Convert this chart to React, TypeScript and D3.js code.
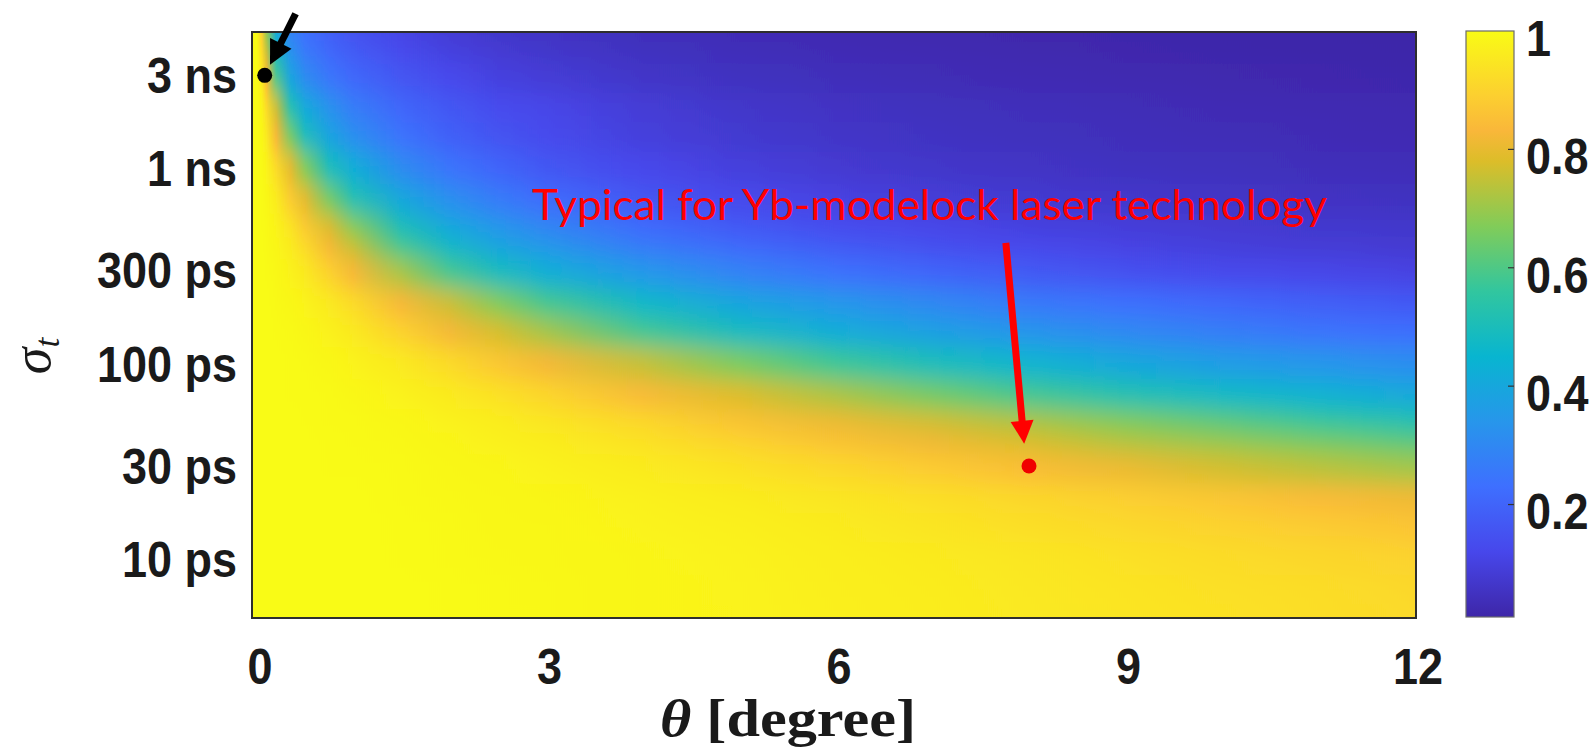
import { useEffect, useRef } from "react";
import * as d3 from "d3";

// grid of the map: tilt angle (degree) and pulse length sigma_t (ps)
const thetas = [0, 0.05, 0.1, 0.2, 0.35, 0.5, 0.75, 1, 1.5, 2, 2.5, 3, 4, 5, 6, 7, 8, 9, 10, 11, 12];
const sigmas = [5, 7, 10, 15, 20, 30, 40, 50, 70, 100, 150, 200, 300, 400, 500, 700, 1000, 1500, 2000, 3000, 4000, 5000];

// one row per sigma, one value per theta
const row5ps = [1, 1, 1, 1, 1, 1, 1, 1, 0.999, 0.997, 0.994, 0.992, 0.986, 0.98, 0.972, 0.964, 0.954, 0.946, 0.937, 0.927, 0.918];
const row7ps = [1, 1, 1, 1, 1, 1, 1, 1, 0.999, 0.997, 0.994, 0.992, 0.986, 0.979, 0.971, 0.962, 0.952, 0.943, 0.933, 0.924, 0.913];
const row10ps = [1, 1, 1, 1, 1, 1, 1, 1, 0.998, 0.996, 0.993, 0.99, 0.984, 0.977, 0.968, 0.958, 0.947, 0.935, 0.923, 0.911, 0.899];
const row15ps = [1, 1, 1, 1, 1, 1, 1, 0.999, 0.997, 0.994, 0.991, 0.989, 0.981, 0.972, 0.96, 0.946, 0.931, 0.916, 0.9, 0.883, 0.866];
const row20ps = [1, 1, 1, 1, 1, 1, 0.999, 0.999, 0.996, 0.993, 0.99, 0.986, 0.976, 0.962, 0.948, 0.929, 0.909, 0.889, 0.867, 0.842, 0.818];
const row30ps = [1, 1, 1, 1, 1, 0.999, 0.998, 0.997, 0.995, 0.99, 0.985, 0.977, 0.96, 0.938, 0.913, 0.881, 0.847, 0.81, 0.77, 0.74, 0.71];
const row40ps = [1, 1, 1, 1, 1, 0.999, 0.997, 0.996, 0.992, 0.985, 0.975, 0.965, 0.938, 0.903, 0.862, 0.82, 0.78, 0.735, 0.7, 0.66, 0.62];
const row50ps = [1, 1, 1, 1, 0.999, 0.998, 0.996, 0.995, 0.989, 0.977, 0.965, 0.948, 0.909, 0.859, 0.809, 0.765, 0.72, 0.665, 0.615, 0.565, 0.52];
const row70ps = [1, 1, 1, 1, 0.998, 0.997, 0.995, 0.991, 0.977, 0.958, 0.935, 0.905, 0.838, 0.781, 0.72, 0.65, 0.58, 0.52, 0.475, 0.44, 0.405];
const row100ps = [1, 1, 1, 0.999, 0.997, 0.995, 0.99, 0.98, 0.954, 0.917, 0.871, 0.824, 0.751, 0.661, 0.574, 0.5, 0.448, 0.4, 0.365, 0.34, 0.315];
const row150ps = [1, 1, 0.999, 0.997, 0.995, 0.99, 0.975, 0.955, 0.897, 0.827, 0.774, 0.712, 0.582, 0.488, 0.422, 0.376, 0.338, 0.303, 0.273, 0.244, 0.227];
const row200ps = [1, 1, 0.999, 0.996, 0.991, 0.98, 0.955, 0.92, 0.83, 0.758, 0.67, 0.585, 0.467, 0.393, 0.344, 0.3, 0.259, 0.233, 0.207, 0.187, 0.167];
const row300ps = [1, 0.999, 0.997, 0.993, 0.978, 0.955, 0.898, 0.83, 0.716, 0.587, 0.495, 0.43, 0.349, 0.285, 0.239, 0.203, 0.172, 0.147, 0.127, 0.117, 0.105];
const row400ps = [1, 0.999, 0.996, 0.988, 0.961, 0.92, 0.83, 0.76, 0.588, 0.472, 0.398, 0.351, 0.267, 0.216, 0.176, 0.144, 0.123, 0.108, 0.094, 0.086, 0.078];
const row500ps = [1, 0.998, 0.995, 0.98, 0.94, 0.875, 0.778, 0.673, 0.497, 0.399, 0.34, 0.288, 0.217, 0.167, 0.135, 0.116, 0.1, 0.09, 0.08, 0.073, 0.067];
const row700ps = [1, 0.997, 0.991, 0.961, 0.88, 0.795, 0.652, 0.52, 0.4, 0.32, 0.265, 0.22, 0.16, 0.125, 0.103, 0.087, 0.076, 0.067, 0.06, 0.054, 0.049];
const row1ns = [1, 0.995, 0.98, 0.92, 0.795, 0.673, 0.5, 0.42, 0.31, 0.245, 0.2, 0.165, 0.12, 0.095, 0.078, 0.066, 0.057, 0.05, 0.045, 0.04, 0.036];
const row1500ps = [1, 0.99, 0.955, 0.83, 0.652, 0.5, 0.39, 0.32, 0.24, 0.19, 0.155, 0.13, 0.095, 0.075, 0.062, 0.052, 0.045, 0.04, 0.035, 0.031, 0.028];
const row2ns = [1, 0.98, 0.92, 0.76, 0.52, 0.41, 0.33, 0.27, 0.205, 0.165, 0.135, 0.115, 0.085, 0.066, 0.054, 0.045, 0.039, 0.034, 0.03, 0.027, 0.024];
const row3ns = [1, 0.955, 0.83, 0.589, 0.39, 0.31, 0.25, 0.21, 0.16, 0.125, 0.1, 0.085, 0.063, 0.049, 0.04, 0.033, 0.028, 0.024, 0.021, 0.018, 0.016];
const row4ns = [1, 0.92, 0.76, 0.473, 0.33, 0.26, 0.21, 0.175, 0.13, 0.1, 0.08, 0.067, 0.049, 0.038, 0.031, 0.026, 0.022, 0.018, 0.015, 0.013, 0.011];
const row5ns = [1, 0.875, 0.673, 0.4, 0.28, 0.23, 0.185, 0.15, 0.11, 0.083, 0.066, 0.055, 0.04, 0.031, 0.025, 0.02, 0.017, 0.015, 0.013, 0.011, 0.01];

const rows = [row5ps, row7ps, row10ps, row15ps, row20ps, row30ps, row40ps, row50ps, row70ps, row100ps, row150ps,
    row200ps, row300ps, row400ps, row500ps, row700ps, row1ns, row1500ps, row2ns, row3ns, row4ns, row5ns];

// axes
const xTicks = [0, 3, 6, 9, 12];
const yTicks = [3000, 1000, 300, 100, 30, 10];
const yTickLabels = ["3 ns", "1 ns", "300 ps", "100 ps", "30 ps", "10 ps"];
const cbTicks = [1, 0.8, 0.6, 0.4, 0.2];
const cbTickLabels = ["1", "0.8", "0.6", "0.4", "0.2"];

// marked points and the annotation
const typicalPoint = {theta: 8, sigma: 30};
const typicalArrow = {from: [7.76, 416], to: [7.95, 39]};
const smallPoint = {theta: 0.08, sigma: 3000};
const smallArrow = {from: [0.4, 6200], to: [0.135, 3400]};
const note = "Typical for Yb-modelock laser technology";

// parula colormap
const parulaPos = [0, 1 / 9, 2 / 9, 3 / 9, 4 / 9, 5 / 9, 6 / 9, 7 / 9, 0.83, 8 / 9, 1];
const parulaColors = ["#3e26a8", "#4747eb", "#3e6fff", "#2796eb", "#08b5d0", "#31c69f", "#81cc59", "#dcbd29", "#f9b73a", "#fccf30", "#f9fb15"];

const App = () => {
    const svgRef = useRef(null)

    useEffect(() => {
        const svg = d3.select(svgRef.current)
        svg.selectAll("*").remove()

        const frame = {left: 252, top: 32, right: 1416, bottom: 618}
        const x = d3.scaleLinear().domain([0, 12]).range([257, 1415])
        const y = d3.scaleLog().domain([5, 5000]).range([frame.bottom, frame.top])

        const vMin = 0.01, vMax = 1
        const parula = d3.scaleLinear()
            .domain(parulaPos)
            .range(parulaColors)
            .interpolate(d3.interpolateRgb)
            .clamp(true)
        const color = v => parula((v - vMin) / (vMax - vMin))

        const defs = svg.append("defs")

        // a horizontal gradient per sigma row
        rows.forEach((row, i) => {
            const grad = defs.append("linearGradient")
                .attr("id", "row" + i)
                .attr("gradientUnits", "userSpaceOnUse")
                .attr("x1", x(0)).attr("x2", x(12))
                .attr("y1", 0).attr("y2", 0)
            row.forEach((v, j) => {
                grad.append("stop")
                    .attr("offset", thetas[j] / 12)
                    .attr("stop-color", color(v))
            })
        })

        defs.append("filter")
            .attr("id", "soft")
            .attr("filterUnits", "userSpaceOnUse")
            .attr("x", 200).attr("y", -40).attr("width", 1280).attr("height", 720)
            .append("feGaussianBlur")
            .attr("stdDeviation", "0 11")

        defs.append("clipPath")
            .attr("id", "plotClip")
            .append("rect")
            .attr("x", frame.left).attr("y", frame.top)
            .attr("width", frame.right - frame.left)
            .attr("height", frame.bottom - frame.top)

        // row bands, boundaries halfway (in log) between sampled sigmas
        const edges = sigmas.map((s, i) => {
            if (i === 0) return y(s) + 40
            return y(Math.sqrt(s * sigmas[i - 1]))
        })
        const topEdge = y(sigmas[sigmas.length - 1]) - 40

        const heat = svg.append("g").attr("clip-path", "url(#plotClip)")
            .append("g").attr("filter", "url(#soft)")
        sigmas.forEach((s, i) => {
            const y0 = edges[i]
            const y1 = i === sigmas.length - 1 ? topEdge : edges[i + 1]
            heat.append("rect")
                .attr("x", frame.left - 30)
                .attr("width", frame.right - frame.left + 60)
                .attr("y", y1 - 0.5)
                .attr("height", y0 - y1 + 1)
                .attr("fill", "url(#row" + i + ")")
        })

        svg.append("rect")
            .attr("x", frame.left).attr("y", frame.top)
            .attr("width", frame.right - frame.left)
            .attr("height", frame.bottom - frame.top)
            .attr("fill", "none")
            .attr("stroke", "#2e2e2e")
            .attr("stroke-width", 2)

        const tickFont = "'Liberation Sans', Arial, Helvetica, sans-serif"
        const tickSize = 45, tickStretch = 1.1

        const label = (g, px, py, txt, anchor) => {
            g.append("g")
                .attr("transform", `translate(${px},${py}) scale(1,${tickStretch})`)
                .append("text")
                .attr("dy", "0.36em")
                .attr("text-anchor", anchor)
                .attr("font-family", tickFont)
                .attr("font-weight", "bold")
                .attr("font-size", tickSize)
                .attr("fill", "#1a1a1a")
                .text(txt)
        }

        // x tick labels
        const xg = svg.append("g")
        xTicks.forEach(d => label(xg, x(d) + 3, 666, d, "middle"))

        // y tick labels
        const yg = svg.append("g")
        yTicks.forEach((d, i) => label(yg, 237, y(d), yTickLabels[i], "end"))

        // axis titles
        const xTitle = svg.append("text")
            .attr("x", 660)
            .attr("y", 736)
            .attr("font-family", "'Liberation Serif', 'DejaVu Serif', serif")
            .attr("font-weight", "bold")
            .attr("font-size", 52)
            .attr("fill", "#1a1a1a")
            .attr("textLength", 256)
            .attr("lengthAdjust", "spacingAndGlyphs")
        xTitle.append("tspan").attr("font-style", "italic").text("θ")
        xTitle.append("tspan").text(" [degree]")

        const yTitle = svg.append("text")
            .attr("transform", "translate(50,356) rotate(-90)")
            .attr("text-anchor", "middle")
            .attr("font-family", "'Liberation Serif', 'DejaVu Serif', serif")
            .attr("font-size", 54)
            .attr("fill", "#1a1a1a")
        yTitle.append("tspan").attr("font-style", "italic").text("σ")
        yTitle.append("tspan").attr("font-style", "italic").attr("font-size", 35).attr("dy", 9).text("t")

        // colorbar
        const cb = {left: 1466, right: 1514, top: 31, bottom: 617}
        const cbY = d3.scaleLinear().domain([vMin, vMax]).range([cb.bottom, cb.top])
        const cbGrad = defs.append("linearGradient")
            .attr("id", "cbGrad")
            .attr("x1", 0).attr("x2", 0).attr("y1", 1).attr("y2", 0)
        parulaColors.forEach((c, i) => {
            cbGrad.append("stop")
                .attr("offset", parulaPos[i])
                .attr("stop-color", c)
        })
        svg.append("rect")
            .attr("x", cb.left).attr("y", cb.top)
            .attr("width", cb.right - cb.left)
            .attr("height", cb.bottom - cb.top)
            .attr("fill", "url(#cbGrad)")
            .attr("stroke", "#6b6b6b")
            .attr("stroke-width", 1.2)
        svg.append("g").selectAll("line")
            .data(cbTicks.filter(d => d < 1))
            .enter()
            .append("line")
            .attr("x1", cb.right - 6).attr("x2", cb.right)
            .attr("y1", d => cbY(d)).attr("y2", d => cbY(d))
            .attr("stroke", "#333")
            .attr("stroke-width", 1.2)
        const cg = svg.append("g")
        cbTicks.forEach((d, i) => label(cg, 1526, cbY(d) + 7, cbTickLabels[i], "start"))

        // arrows and points
        const drawArrow = (from, to, fill, width, headLen, headW) => {
            const x1 = x(from[0]), y1 = y(from[1]), x2 = x(to[0]), y2 = y(to[1])
            const len = Math.hypot(x2 - x1, y2 - y1)
            const ux = (x2 - x1) / len, uy = (y2 - y1) / len
            const bx = x2 - ux * headLen, by = y2 - uy * headLen
            svg.append("line")
                .attr("x1", x1).attr("y1", y1)
                .attr("x2", bx + ux * 2).attr("y2", by + uy * 2)
                .attr("stroke", fill)
                .attr("stroke-width", width)
            svg.append("polygon")
                .attr("points", [
                    [x2, y2],
                    [bx - uy * headW / 2, by + ux * headW / 2],
                    [bx + uy * headW / 2, by - ux * headW / 2]
                ].map(p => p.join(",")).join(" "))
                .attr("fill", fill)
        }

        svg.append("text")
            .attr("x", 532)
            .attr("y", 220)
            .attr("font-family", "Lato, 'Open Sans', sans-serif")
            .attr("font-size", 42)
            .attr("fill", "#ff0000")
            .attr("textLength", 795)
            .attr("lengthAdjust", "spacingAndGlyphs")
            .text(note)

        drawArrow(typicalArrow.from, typicalArrow.to, "#ff0000", 7, 23, 23)
        svg.append("circle")
            .attr("cx", x(typicalPoint.theta))
            .attr("cy", y(typicalPoint.sigma))
            .attr("r", 7.5)
            .attr("fill", "#f00000")

        drawArrow(smallArrow.from, smallArrow.to, "#000", 7, 24, 24)
        svg.append("circle")
            .attr("cx", x(smallPoint.theta))
            .attr("cy", y(smallPoint.sigma))
            .attr("r", 7.5)
            .attr("fill", "#000")
    }, [])

    return (
        <div style={{position: "absolute", left: 0, top: 0}}>
            <svg ref={svgRef} width={1596} height={752} style={{display: "block", background: "#fff"}}></svg>
        </div>
    )
}
export default App
